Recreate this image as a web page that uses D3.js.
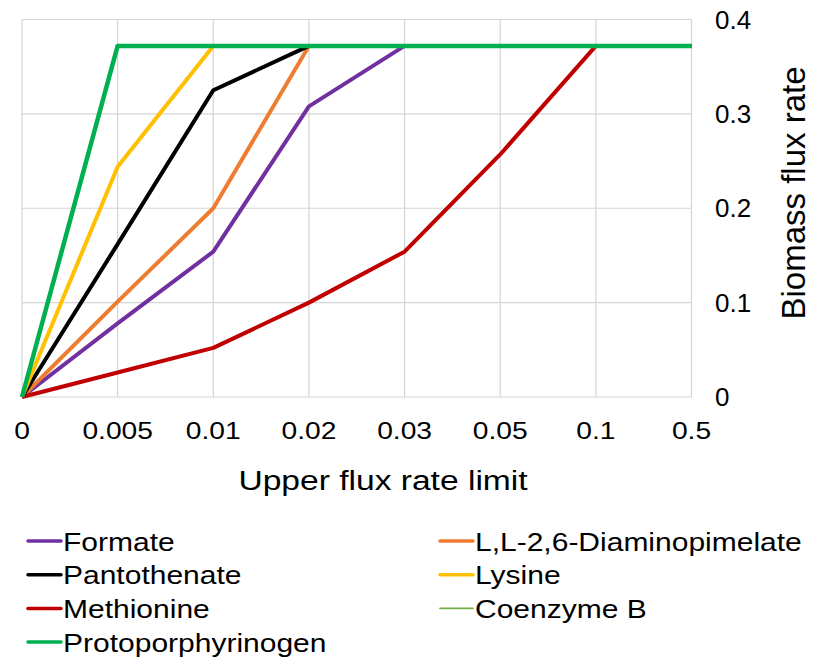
<!DOCTYPE html>
<html>
<head>
<meta charset="utf-8">
<script src="https://cdn.jsdelivr.net/npm/d3@7"></script>
<style>
  body { margin: 0; background: #ffffff; }
  text { font-family: "Liberation Sans", Arial, sans-serif; fill: #000000; }
</style>
</head>
<body>
<div class="chart"></div>
<script>
// Chart values.
const xLabels = ["0", "0.005", "0.01", "0.02", "0.03", "0.05", "0.1", "0.5"];
const yTicks = [0, 0.1, 0.2, 0.3, 0.4];
const seriesNames = ["Formate", "L,L-2,6-Diaminopimelate", "Pantothenate", "Lysine",
  "Methionine", "Coenzyme B", "Protoporphyrinogen"];
const formate = [0, 0.078, 0.154, 0.308, 0.372, 0.372, 0.372, 0.372];
const diaminopimelate = [0, 0.101, 0.200, 0.372, 0.372, 0.372, 0.372, 0.372];
const pantothenate = [0, 0.162, 0.325, 0.372, 0.372, 0.372, 0.372, 0.372];
const lysine = [0, 0.244, 0.372, 0.372, 0.372, 0.372, 0.372, 0.372];
const methionine = [0, 0.026, 0.052, 0.100, 0.154, 0.257, 0.372, 0.372];
const coenzymeB = [0, 0.372, 0.372, 0.372, 0.372, 0.372, 0.372, 0.372];
const protoporphyrinogen = [0, 0.372, 0.372, 0.372, 0.372, 0.372, 0.372, 0.372];
const seriesValues = [formate, diaminopimelate, pantothenate, lysine, methionine, coenzymeB, protoporphyrinogen];

const colors = ["#7030A0", "#ED7D31", "#000000", "#FFC000", "#C00000", "#70AD47", "#00B050"];
const widths = [4, 4, 4, 4, 4, 2, 4.5];

const width = 814, height = 657;
const plot = { left: 22, right: 691.5, top: 19.5, bottom: 397 };

const svg = d3.select(".chart")
  .append("svg")
  .attr("width", width)
  .attr("height", height)
  .attr("viewBox", [0, 0, width, height]);

const x = d3.scalePoint()
  .domain(xLabels)
  .range([plot.left, plot.right]);
const y = d3.scaleLinear()
  .domain([0, 0.4])
  .range([plot.bottom, plot.top]);

// Gridlines (the outer ones make the frame).
svg.append("g")
  .selectAll("line")
  .data(xLabels)
  .join("line")
  .attr("x1", d => x(d)).attr("x2", d => x(d))
  .attr("y1", plot.top).attr("y2", plot.bottom)
  .attr("stroke", "#d4d4d4")
  .attr("stroke-width", 1.2);
svg.append("g")
  .selectAll("line")
  .data(yTicks)
  .join("line")
  .attr("x1", plot.left).attr("x2", plot.right)
  .attr("y1", d => y(d)).attr("y2", d => y(d))
  .attr("stroke", "#d4d4d4")
  .attr("stroke-width", 1.2);

// Right y axis labels.
svg.append("g")
  .selectAll("text")
  .data(yTicks)
  .join("text")
  .attr("x", 715)
  .attr("y", d => y(d) + 9)
  .attr("font-size", "26px")
  .text(d => d === 0 ? "0" : d3.format(".1f")(d));

svg.append("text")
  .attr("transform", "translate(805, 193) rotate(-90)")
  .attr("text-anchor", "middle")
  .attr("font-size", "33px")
  .text("Biomass flux rate");

// Bottom x labels, drawn a little wider than the font to match the picture.
const sx = 1.2;
svg.append("g")
  .selectAll("text")
  .data(xLabels)
  .join("text")
  .attr("transform", d => `translate(${x(d)}, 438.5) scale(${sx}, 1)`)
  .attr("text-anchor", "middle")
  .attr("font-size", "23.5px")
  .text(d => d);

svg.append("text")
  .attr("transform", `translate(383, 490) scale(${sx}, 1)`)
  .attr("text-anchor", "middle")
  .attr("font-size", "28px")
  .text("Upper flux rate limit");

// Series lines.
const line = d3.line()
  .x((d, i) => x(xLabels[i]))
  .y(d => y(d));
seriesValues.forEach((vals, i) => {
  svg.append("path")
    .datum(vals)
    .attr("fill", "none")
    .attr("stroke", colors[i])
    .attr("stroke-width", widths[i])
    .attr("stroke-linejoin", "round")
    .attr("d", line);
});

// Legend: two columns, read row by row.
const legend = svg.append("g");
seriesNames.forEach((name, i) => {
  const col = i % 2, row = Math.floor(i / 2);
  const lx = col === 0 ? 28 : 440;
  const ly = 541 + row * 33.7;
  legend.append("line")
    .attr("x1", lx).attr("x2", lx + 33)
    .attr("y1", ly).attr("y2", ly)
    .attr("stroke", colors[i])
    .attr("stroke-width", widths[i] === 2 ? 1.6 : 3.5)
    .attr("stroke-linecap", "round");
  legend.append("text")
    .attr("transform", `translate(${lx + 35}, ${ly + 9.5}) scale(${sx}, 1)`)
    .attr("font-size", "25px")
    .text(name);
});
</script>
</body>
</html>
